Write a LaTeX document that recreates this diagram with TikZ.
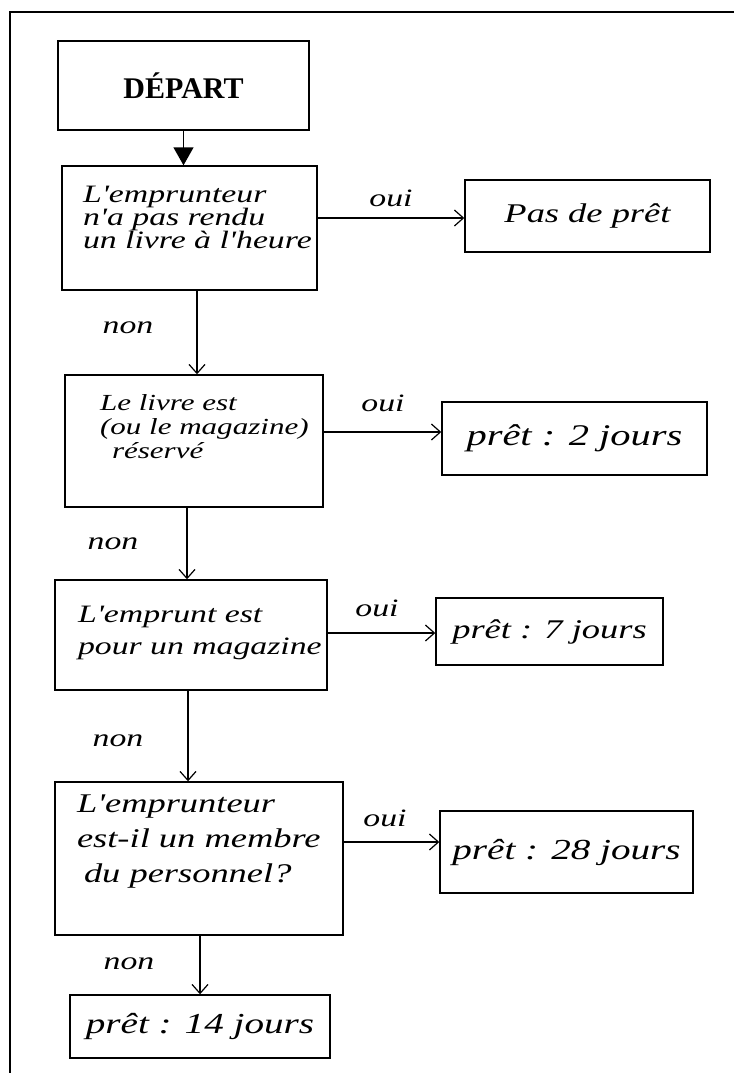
\documentclass[tikz,border=0pt]{standalone}
\usepackage{fontspec}
\setmainfont{Liberation Serif}
\newfontfamily\hand{Liberation Serif}[FakeStretch=1.35]
\usetikzlibrary{arrows.meta}

% question text: width, height, top pad, left pad, font size, line skip, lines
\newcommand\qtext[7]{\parbox[c][#2][t]{#1}{\fontsize{#5}{#6}\hand\itshape\selectfont
  \raggedright\leftskip=#4\relax\vspace*{#3}#7\par}}

\begin{document}
\begin{tikzpicture}[x=1pt,y=-1pt,
  startbox/.style={draw, line width=2pt, minimum width=251pt, minimum height=89pt,
    inner sep=0pt, font=\bfseries\fontsize{30}{36}\selectfont},
  qbox/.style={draw, line width=1.4pt, inner sep=0pt},
  rbox/.style={draw, line width=1.4pt, inner sep=0pt},
  rtext/.style={font=\hand\itshape\fontsize{#1}{#1}\selectfont},
  lab/.style={anchor=base, inner sep=0pt, font=\hand\itshape\fontsize{25}{25}\selectfont},
  flow/.style={line width=1.2pt, -{Straight Barb[length=9pt,width=16pt]}},
  startflow/.style={line width=1.4pt, -{Triangle[length=18pt,width=20pt]}}]
\useasboundingbox (0,0) rectangle (734,1073);

% page frame
\draw[line width=2.5pt] (10,1073) -- (10,12) -- (734,12);

% start
\node[startbox] (dep) at (183.5,85.5) {DÉPART};

% questions
\node[qbox] (q1) at (189.5,228)
  {\qtext{255pt}{124pt}{20pt}{21pt}{25}{23}{L'emprunteur\\n'a pas rendu\\un livre à l'heure}};
\node[qbox] (q2) at (194,441)
  {\qtext{258pt}{132pt}{20pt}{35pt}{23}{24}{Le livre est\\(ou le magazine)\\\hspace*{12pt}réservé}};
\node[qbox] (q3) at (191,635)
  {\qtext{272pt}{110pt}{26pt}{23pt}{25}{32}{L'emprunt est\\pour un magazine}};
\node[qbox] (q4) at (199,858.5)
  {\qtext{288pt}{153pt}{13pt}{22pt}{27}{35}{L'emprunteur\\est-il un membre\\\hspace*{7pt}du personnel?}};

% outcomes
\node[rbox, minimum width=245pt, minimum height=72pt, rtext=27] (r1) at (587.5,216) {Pas de prêt};
\node[rbox, minimum width=265pt, minimum height=73pt, rtext=30] (r2) at (574.5,438.5) {prêt : 2 jours};
\node[rbox, minimum width=227pt, minimum height=67pt, rtext=27] (r3) at (549.5,631.5) {prêt : 7 jours};
\node[rbox, minimum width=253pt, minimum height=82pt, rtext=29] (r4) at (566.5,852) {prêt : 28 jours};
\node[rbox, minimum width=260pt, minimum height=63pt, rtext=29] (r5) at (200,1026.5) {prêt : 14 jours};

% arrow end points on the outcome boxes
\coordinate (a1) at ([yshift=-2pt]r1.west);
\coordinate (a2) at ([yshift=6.5pt]r2.west);
\coordinate (a3) at ([yshift=-1.5pt]r3.west);
\coordinate (a4) at ([yshift=10pt]r4.west);
% arrow start points under the boxes
\coordinate (b1) at ([xshift=7.5pt]q1.south);
\coordinate (b2) at ([xshift=-7pt]q2.south);
\coordinate (b3) at ([xshift=-3pt]q3.south);
\coordinate (b4) at ([xshift=1pt]q4.south);

% connectors
\draw[startflow] (dep.south) -- (dep.south |- q1.north);
\draw[flow] (b1) -- (b1 |- q2.north);
\draw[flow] (b2) -- (b2 |- q3.north);
\draw[flow] (b3) -- (b3 |- q4.north);
\draw[flow] (b4) -- (b4 |- r5.north);
\draw[flow] (q1.east |- a1) -- (a1);
\draw[flow] (q2.east |- a2) -- (a2);
\draw[flow] (q3.east |- a3) -- (a3);
\draw[flow] (q4.east |- a4) -- (a4);

% branch labels
\node[lab] (o1) at (391,206) {oui};
\node[lab] (o2) at (383,411) {oui};
\node[lab] (o3) at (377,616) {oui};
\node[lab] (o4) at (385,826) {oui};
\node[lab] (n1) at (128,333) {non};
\node[lab] (n2) at (113,549) {non};
\node[lab] (n3) at (118,746) {non};
\node[lab] (n4) at (129,969) {non};
\end{tikzpicture}
\end{document}
